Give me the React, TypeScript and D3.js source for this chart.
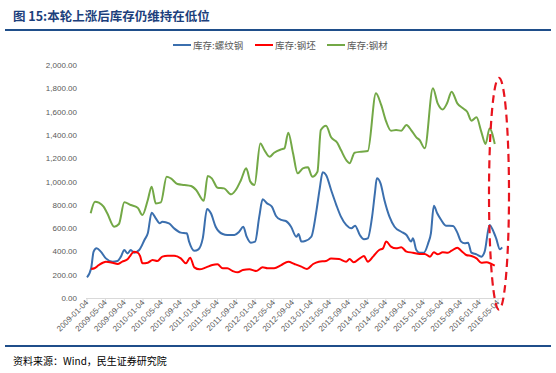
import React from 'react';
import * as d3 from 'd3';

// 库存:螺纹钢 (blue)
const rebarDates = ['2009-01-04','2009-01-31','2009-02-16','2009-03-07','2009-04-04','2009-05-07','2009-06-19','2009-07-22','2009-08-13','2009-09-04','2009-09-25','2009-10-16','2009-11-07','2009-12-10','2010-01-13','2010-02-04','2010-03-01','2010-03-28','2010-04-22','2010-05-10','2010-06-22','2010-07-25','2010-09-07','2010-10-16','2010-10-31','2010-12-04','2010-12-31','2011-01-28','2011-02-25','2011-03-22','2011-04-22','2011-06-07','2011-07-07','2011-08-22','2011-09-22','2011-10-19','2011-11-10','2011-12-07','2012-01-04','2012-01-31','2012-02-22','2012-03-22','2012-04-22','2012-05-19','2012-06-22','2012-07-22','2012-08-25','2012-09-28','2012-10-13','2012-10-31','2012-11-25','2013-01-04','2013-02-07','2013-02-28','2013-03-19','2013-04-10','2013-05-13','2013-06-16','2013-07-16','2013-08-19','2013-09-22','2013-10-16','2013-11-16','2013-12-13','2014-01-07','2014-02-04','2014-02-22','2014-03-07','2014-03-31','2014-04-25','2014-05-28','2014-06-30','2014-08-13','2014-09-16','2014-10-16','2014-10-28','2014-11-19','2014-12-10','2015-01-07','2015-02-04','2015-02-22','2015-03-13','2015-04-04','2015-04-30','2015-05-31','2015-07-16','2015-08-13','2015-09-07','2015-09-30','2015-10-22','2015-11-13','2015-12-16','2016-01-16','2016-02-07','2016-03-10','2016-03-31','2016-04-22','2016-05-16','2016-05-31'];
const rebarValues = [177,255,398,426,398,340,312,318,355,412,383,412,389,412,498,555,732,684,641,655,641,598,561,555,484,406,418,512,764,727,612,549,541,541,569,612,526,475,484,698,847,812,784,704,670,661,612,526,549,484,489,526,755,941,1079,1056,927,798,698,627,598,621,541,504,512,698,898,1027,984,841,698,612,569,541,484,512,412,389,389,469,555,792,727,670,621,618,561,484,469,475,389,375,355,398,627,584,512,418,435];

// 库存:钢坯 (red)
const billetDates = ['2009-01-31','2009-02-22','2009-03-22','2009-05-07','2009-06-19','2009-07-22','2009-08-22','2009-09-25','2009-10-16','2009-11-04','2009-11-30','2009-12-16','2009-12-31','2010-02-04','2010-03-07','2010-04-07','2010-05-10','2010-06-13','2010-07-25','2010-09-07','2010-10-10','2010-11-07','2010-12-04','2011-01-07','2011-02-19','2011-03-31','2011-05-04','2011-06-07','2011-07-07','2011-08-10','2011-09-13','2011-10-16','2011-11-28','2012-01-10','2012-02-22','2012-03-25','2012-05-07','2012-06-22','2012-08-07','2012-09-16','2012-10-31','2012-12-07','2013-01-16','2013-02-22','2013-04-10','2013-05-13','2013-07-04','2013-08-19','2013-09-10','2013-10-07','2013-11-16','2013-12-13','2014-01-07','2014-02-10','2014-03-22','2014-04-16','2014-05-07','2014-06-07','2014-07-10','2014-08-13','2014-09-16','2014-10-28','2014-12-10','2015-01-13','2015-02-16','2015-03-13','2015-04-07','2015-05-10','2015-06-13','2015-07-07','2015-08-13','2015-09-07','2015-10-10','2015-11-13','2015-12-16','2016-01-16','2016-02-19','2016-03-22','2016-04-13'];
const billetValues = [249,255,283,312,303,292,312,332,369,398,389,360,298,303,326,318,355,363,363,340,298,346,263,246,263,283,289,255,255,232,220,240,246,232,263,255,255,283,312,292,269,249,292,312,318,340,335,312,335,306,340,360,312,355,412,426,484,441,426,435,398,389,378,378,355,392,375,392,389,406,432,406,369,360,340,303,306,292,278];

// 库存:钢材 (green)
const steelDates = ['2009-01-28','2009-02-25','2009-03-22','2009-04-22','2009-05-16','2009-06-30','2009-07-31','2009-09-04','2009-10-16','2009-11-30','2009-12-31','2010-02-04','2010-03-01','2010-03-28','2010-04-30','2010-06-07','2010-07-04','2010-08-16','2010-09-30','2010-11-13','2010-12-16','2011-02-04','2011-03-01','2011-03-28','2011-05-04','2011-06-16','2011-07-31','2011-08-31','2011-10-04','2011-11-07','2011-12-04','2011-12-31','2012-02-07','2012-03-04','2012-04-07','2012-05-07','2012-06-22','2012-07-13','2012-08-07','2012-09-07','2012-10-07','2012-11-10','2012-12-13','2013-01-10','2013-02-13','2013-03-07','2013-04-10','2013-05-13','2013-06-22','2013-07-16','2013-08-22','2013-09-10','2013-10-13','2013-11-25','2014-01-07','2014-03-01','2014-04-04','2014-05-07','2014-06-07','2014-07-10','2014-08-13','2014-09-16','2014-10-16','2014-11-19','2014-12-10','2015-01-13','2015-03-07','2015-04-07','2015-05-10','2015-06-07','2015-07-07','2015-08-13','2015-09-19','2015-10-16','2015-11-13','2015-12-16','2016-01-16','2016-02-13','2016-03-10','2016-04-13'];
const steelValues = [727,827,818,784,727,612,635,821,798,775,712,841,956,812,821,1041,1027,978,970,961,927,835,1047,1027,947,941,890,927,1013,1113,999,970,1327,1270,1213,1247,1276,1285,1419,1242,1070,1113,1122,1041,1084,1442,1479,1379,1333,1270,1179,1156,1247,1256,1262,1757,1657,1513,1436,1442,1436,1485,1442,1379,1356,1285,1800,1671,1619,1671,1771,1671,1628,1599,1522,1551,1428,1322,1456,1322];

const tickLabels = ['2009-01-04','2009-05-04','2009-09-04','2010-01-04','2010-05-04','2010-09-04','2011-01-04','2011-05-04','2011-09-04','2012-01-04','2012-05-04','2012-09-04','2013-01-04','2013-05-04','2013-09-04','2014-01-04','2014-05-04','2014-09-04','2015-01-04','2015-05-04','2015-09-04','2016-01-04','2016-05-04'];
const yTicks = [0, 200, 400, 600, 800, 1000, 1200, 1400, 1600, 1800, 2000];

const seriesNames = ['库存:螺纹钢', '库存:钢坯', '库存:钢材'];
const seriesColors = ['#3b6fae', '#ff0000', '#73a846'];

const parse = d3.timeParse('%Y-%m-%d');

const App = () => {
    const width = 556;
    const height = 373;

    const x = d3.scaleTime()
        .domain([parse('2009-01-04'), parse('2016-05-04')])
        .range([87, 498]);
    const y = d3.scaleLinear().domain([0, 2000]).range([298, 65]);

    const line = d3.line<[Date, number]>()
        .x(d => x(d[0]))
        .y(d => y(d[1]))
        .curve(d3.curveMonotoneX);

    const series = [
        { dates: rebarDates, values: rebarValues },
        { dates: billetDates, values: billetValues },
        { dates: steelDates, values: steelValues },
    ].map(s => s.dates.map((d, i) => [parse(d), s.values[i]] as [Date, number]));

    const fmt = d3.format(',.2f');
    const axisEnd = x(parse('2016-06-15'));

    // legend positions
    const legendX = [173, 255, 327];

    // annotation ellipse around latest values
    const ex = x(parse('2016-05-04')) + 1;
    const ey = (y(1890) + y(-100)) / 2;
    const ery = (y(-100) - y(1890)) / 2;

    const labelFont = 'Liberation Sans, Arial, sans-serif';
    const cjkFont = '"Noto Sans CJK SC", sans-serif';

    return (
        <svg width={width} height={height} style={{ position: 'absolute', left: 0, top: 0, background: '#fff' }}>
            <text x={13} y={21} fontFamily={cjkFont} fontWeight="bold" fontSize={12.5} fill="#1c3f7c">
                图 15:本轮上涨后库存仍维持在低位
            </text>
            <rect x={5} y={29} width={546} height={2} fill="#1f4e8a" />

            {/* legend */}
            {seriesNames.map((name, i) => (
                <g key={name}>
                    <line x1={legendX[i]} x2={legendX[i] + 18} y1={45} y2={45} stroke={seriesColors[i]} strokeWidth={2} />
                    <text x={legendX[i] + 20} y={48.5} fontFamily={cjkFont} fontSize={9.5} fill="#595959">{name}</text>
                </g>
            ))}

            {/* y axis labels */}
            {yTicks.map(t => (
                <text key={t} x={77} y={y(t) + 3} textAnchor="end" fontFamily={labelFont} fontSize={8} fill="#595959">
                    {fmt(t)}
                </text>
            ))}

            {/* x axis */}
            <line x1={86} x2={axisEnd} y1={298.5} y2={298.5} stroke="#d9d9d9" strokeWidth={1} />
            {tickLabels.map(t => {
                const tx = x(parse(t));
                return (
                    <g key={t}>
                        <line x1={tx} x2={tx} y1={298.5} y2={301.5} stroke="#d9d9d9" />
                        <text
                            transform={`translate(${tx + 2},${303}) rotate(-45)`}
                            textAnchor="end"
                            fontFamily={labelFont}
                            fontSize={8}
                            fill="#595959"
                        >
                            {t}
                        </text>
                    </g>
                );
            })}

            {/* series */}
            {series.map((s, i) => (
                <path key={i} d={line(s) || ''} fill="none" stroke={seriesColors[i]} strokeWidth={2} strokeLinejoin="round" />
            ))}

            <ellipse cx={ex} cy={ey} rx={10} ry={ery} fill="none" stroke="#e8141e" strokeWidth={2.2} strokeDasharray="8 5" />

            <rect x={5} y={345} width={546} height={2} fill="#1f4e8a" />
            <text x={13} y={365} fontFamily={cjkFont} fontSize={10} fill="#000">
                资料来源：Wind，民生证券研究院
            </text>
        </svg>
    );
};

export default App;
